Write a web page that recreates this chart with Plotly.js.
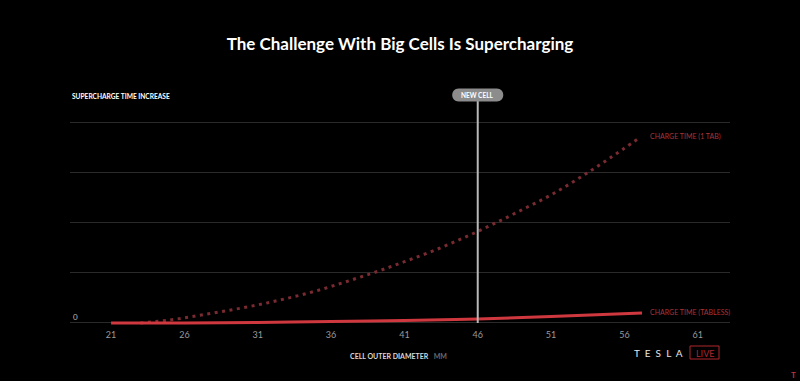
<!DOCTYPE html>
<html>
<head>
<meta charset="utf-8">
<script src="https://cdn.plot.ly/plotly-3.0.1.min.js"></script>
<style>html,body{margin:0;padding:0;background:#000;}#chart{width:800px;height:381px;}</style>
</head>
<body>
<div id="chart"></div>
<script>
// Data
const oneTabDiameter = [23, 25, 27, 29, 31, 33, 35, 37, 39, 41, 43, 45, 47, 49, 51, 53, 55, 57.1];
const oneTabTime     = [0.0, 0.06, 0.15, 0.25, 0.36, 0.49, 0.64, 0.82, 1.01, 1.22, 1.44, 1.69, 1.96, 2.25, 2.55, 2.9, 3.28, 3.70];
const tablessDiameter = [21, 26, 31, 36, 41, 46, 51, 57.2];
const tablessTime     = [0.0, 0.0, 0.01, 0.03, 0.05, 0.08, 0.13, 0.20];
const xTickVals = [21, 26, 31, 36, 41, 46, 51, 56, 61];
const yGridVals = [0, 1, 2, 3, 4];
const newCellDiameter = 46;
const seriesLabels = ["CHARGE TIME (1 TAB)", "CHARGE TIME (TABLESS)"];

const font = "Lato, 'Open Sans', sans-serif";

const traces = [
  {
    x: oneTabDiameter, y: oneTabTime, type: 'scatter', mode: 'lines',
    line: {color: '#7a2a31', width: 3, dash: '3px,4.5px', shape: 'spline', smoothing: 1},
    hoverinfo: 'skip', cliponaxis: false
  },
  {
    x: tablessDiameter, y: tablessTime, type: 'scatter', mode: 'lines',
    line: {color: '#cf383e', width: 3, shape: 'spline'},
    hoverinfo: 'skip', cliponaxis: false
  }
];

const layout = {
  width: 800, height: 381,
  paper_bgcolor: '#000', plot_bgcolor: '#000',
  margin: {l: 70, r: 70, t: 117, b: 53},
  showlegend: false,
  font: {family: font, color: '#fff'},
  title: {
    text: '<b>The Challenge With Big Cells Is Supercharging</b>',
    font: {family: font, size: 17, color: '#ffffff'},
    x: 0.5, xanchor: 'center', y: 1 - 44/381, yanchor: 'middle', yref: 'container'
  },
  xaxis: {
    range: [18.2, 63.2], tickvals: xTickVals, ticktext: xTickVals.map(String),
    showgrid: false, zeroline: false, showline: false, ticks: '',
    tickfont: {family: font, size: 9, color: '#9a9a9a'}
  },
  yaxis: {
    range: [-0.1, 4.1], tickvals: yGridVals, showticklabels: false,
    showgrid: true, gridcolor: '#2a2a2a', gridwidth: 1, zeroline: false, showline: false, ticks: ''
  },
  shapes: [
    {type: 'line', xref: 'x', yref: 'paper', x0: newCellDiameter, x1: newCellDiameter,
     y0: 5/211, y1: 1 + 17/211, line: {color: '#b8b8b8', width: 2}, layer: 'above'},
    {type: 'path', xref: 'x', yref: 'paper', xsizemode: 'pixel', ysizemode: 'pixel',
     xanchor: newCellDiameter, yanchor: 1 + 22/211,
     path: 'M -19,-6.5 L 19,-6.5 C 27.7,-6.5 27.7,6.5 19,6.5 L -19,6.5 C -27.7,6.5 -27.7,-6.5 -19,-6.5 Z',
     fillcolor: '#8c8c8c', line: {width: 0}, layer: 'above'},
    {type: 'rect', xref: 'paper', yref: 'paper', x0: (690-70)/660, x1: (719-70)/660,
     y0: (328-359)/211, y1: (328-346)/211, line: {color: '#b0262e', width: 1}, fillcolor: 'rgba(0,0,0,0)'}
  ],
  annotations: [
    {text: '<b>NEW CELL</b>', x: newCellDiameter, xref: 'x', y: 1 + 22/211, yref: 'paper',
     showarrow: false, font: {family: font, size: 6.5, color: '#ffffff'}, xanchor: 'center', yanchor: 'middle'},
    {text: '<b>SUPERCHARGE TIME INCREASE</b>', x: 0, xref: 'paper', xanchor: 'left', xshift: 0,
     y: 1 + 21/211, yref: 'paper', yanchor: 'middle', showarrow: false,
     font: {family: font, size: 6.6, color: '#ffffff'}},
    {text: '0', x: 0, xref: 'paper', xanchor: 'left', xshift: 1, y: 0.12, yref: 'y', yanchor: 'middle',
     showarrow: false, font: {family: font, size: 8, color: '#bbbbbb'}},
    {text: seriesLabels[0], x: 57.6, xref: 'x', xanchor: 'left', y: 3.72, yref: 'y', yanchor: 'middle',
     showarrow: false, font: {family: font, size: 7, color: '#a8343b'}},
    {text: seriesLabels[1], x: 57.6, xref: 'x', xanchor: 'left', y: 0.2, yref: 'y', yanchor: 'middle',
     showarrow: false, font: {family: font, size: 7, color: '#a8343b'}},
    {text: "<b>CELL OUTER DIAMETER</b>   <span style='color:#6a6a6a'><b>MM</b></span>",
     x: (398-70)/660, xref: 'paper', xanchor: 'center', y: (328-356)/211, yref: 'paper', yanchor: 'middle',
     showarrow: false, font: {family: font, size: 7, color: '#d8d8d8'}},
    {text: 'T  E  S  L  A', x: (658-70)/660, xref: 'paper', xanchor: 'center', y: (328-353)/211, yref: 'paper',
     yanchor: 'middle', showarrow: false, font: {family: font, size: 10, color: '#e6e6e6'}},
    {text: 'LIVE', x: (704.5-70)/660, xref: 'paper', xanchor: 'center', y: (328-353)/211, yref: 'paper',
     yanchor: 'middle', showarrow: false, font: {family: font, size: 9, color: '#b0262e'}},
    {text: '<b>T</b>', x: (793-70)/660, xref: 'paper', xanchor: 'center', y: (328-375)/211, yref: 'paper',
     yanchor: 'middle', showarrow: false, font: {family: font, size: 8, color: '#c0303a'}}
  ]
};

Plotly.newPlot('chart', traces, layout, {staticPlot: true, displayModeBar: false});
</script>
</body>
</html>
